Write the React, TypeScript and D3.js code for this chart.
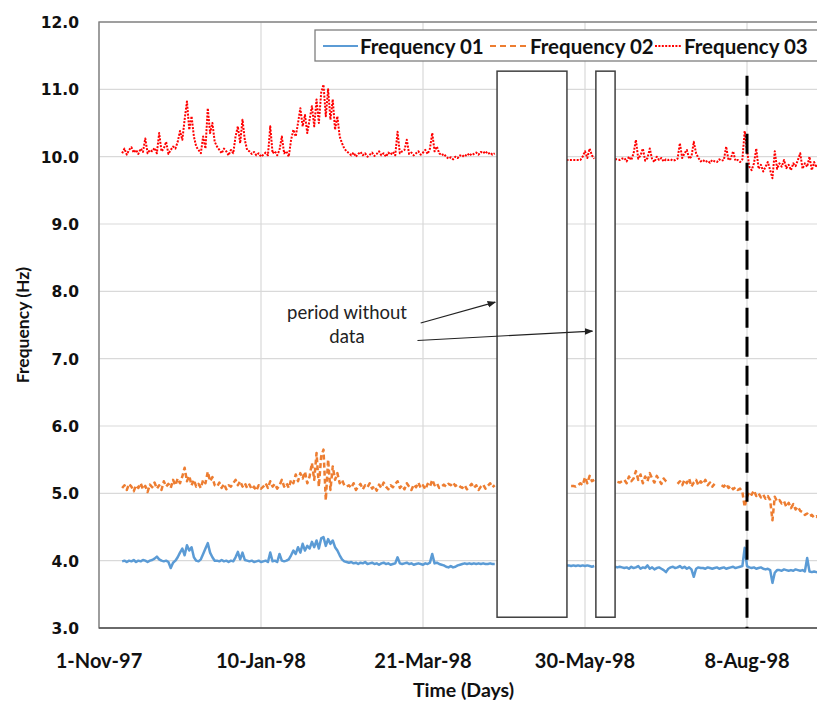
import React from "react";
import * as d3 from "d3";

// ---------- data (day offsets from 1-Nov-1997, one value per day) ----------
const originDate = new Date(1997, 10, 1);
const axisEndDay = 315;
const tickLabels = ["1-Nov-97", "10-Jan-98", "21-Mar-98", "30-May-98", "8-Aug-98"];
const tickDays = [0, 70, 140, 210, 280];
const yTicks = [3, 4, 5, 6, 7, 8, 9, 10, 11, 12];
const segmentStarts = [10, 202, 223];

const freq01Seg1 = [
  3.99, 4.0, 3.98, 4.0, 3.99, 4.01, 3.98, 4.0, 3.99, 4.01,
  4.0, 3.98, 4.0, 4.01, 4.03, 4.06, 4.02, 4.0, 3.99, 4.0,
  3.98, 3.89, 3.97, 4.0, 4.05, 4.12, 4.18, 4.08, 4.23, 4.15,
  4.2, 4.05, 4.0, 3.99, 4.02, 4.1, 4.18, 4.26, 4.12, 4.05,
  4.0, 4.0, 3.99, 4.01, 3.99, 4.0, 3.98, 4.0, 3.99, 4.05,
  4.13, 4.02, 4.12, 4.01, 4.0, 3.99, 4.0, 3.98, 3.99, 4.0,
  3.98, 3.99, 4.0, 3.98, 4.12, 3.99, 4.0, 3.98, 4.1, 4.0,
  3.99, 4.0, 4.02, 4.08, 4.15, 4.1, 4.2, 4.12, 4.25, 4.15,
  4.22, 4.18, 4.28, 4.2, 4.3, 4.18, 4.33, 4.35, 4.22, 4.32,
  4.25, 4.3, 4.2, 4.15, 4.08, 4.02, 3.99, 3.98, 3.97, 3.98,
  3.96, 3.97, 3.95, 3.97, 3.96, 3.98, 3.95, 3.96, 3.97, 3.95,
  3.96, 3.94, 3.96, 3.97, 3.95, 3.96, 3.94, 3.95, 3.96, 4.05,
  3.96, 3.95, 3.96, 3.97, 3.95, 3.96, 3.94, 3.95, 3.96, 3.95,
  3.94, 3.96, 3.95, 3.97, 4.1, 3.96, 3.97, 3.95, 3.94, 3.93,
  3.91, 3.9, 3.92, 3.9, 3.91, 3.93, 3.94, 3.95, 3.96, 3.95,
  3.96, 3.95, 3.96, 3.95, 3.96, 3.95, 3.96, 3.95, 3.95, 3.96,
  3.95, 3.95,
];
const freq01Seg2 = [3.93, 3.93, 3.92, 3.93, 3.92, 3.93, 3.92, 3.93, 3.92, 3.93, 3.92, 3.91, 3.92];
const freq01Seg3 = [
  3.91, 3.9, 3.91, 3.9, 3.89, 3.9, 3.88, 3.91, 3.89, 3.9,
  3.92, 3.88, 3.9, 3.89, 3.93, 3.88, 3.9, 3.87, 3.89, 3.9,
  3.88, 3.86, 3.83, 3.88, 3.9, 3.91, 3.89, 3.9, 3.92, 3.89,
  3.91, 3.88, 3.9, 3.87, 3.76, 3.88, 3.9, 3.89, 3.89, 3.88,
  3.9, 3.89, 3.88, 3.89, 3.9, 3.88, 3.89, 3.9, 3.88, 3.89,
  3.9, 3.91, 3.89, 3.9, 3.91, 3.92, 4.19, 3.92, 3.9, 3.89,
  3.9, 3.88, 3.89, 3.9, 3.88, 3.87, 3.88, 3.86, 3.67, 3.82,
  3.86, 3.86, 3.85, 3.87, 3.86, 3.85, 3.86, 3.85, 3.87, 3.86,
  3.85, 3.86, 3.84, 4.04, 3.84, 3.83, 3.84, 3.83, 3.82, 3.83,
];

const freq02Seg1 = [
  5.08, 5.12, 5.05, 5.14, 5.1, 5.03, 5.12, 5.08, 5.15, 5.06,
  5.11, 5.02, 5.13, 5.09, 5.16, 5.07, 5.12, 5.05, 5.18, 5.1,
  5.14, 5.08, 5.2, 5.12, 5.22, 5.15, 5.25, 5.38, 5.18, 5.26,
  5.12, 5.2, 5.1, 5.14, 5.08, 5.2, 5.15, 5.32, 5.18, 5.24,
  5.12, 5.1, 5.16, 5.08, 5.14, 5.06, 5.12, 5.1, 5.15, 5.2,
  5.12, 5.18, 5.1, 5.15, 5.08, 5.13, 5.06, 5.1, 5.04, 5.12,
  5.07, 5.1, 5.15, 5.08, 5.18, 5.1, 5.14, 5.07, 5.12, 5.2,
  5.1, 5.15, 5.08, 5.2, 5.15, 5.28, 5.18, 5.3, 5.22, 5.32,
  5.15, 5.25, 5.45, 5.2, 5.6, 5.1, 5.55, 5.65, 4.9, 5.5,
  5.05, 5.4, 5.2, 5.3, 5.15, 5.2, 5.12, 5.1, 5.12, 5.08,
  5.15, 5.05, 5.1, 5.14, 5.06, 5.12, 5.09, 5.15, 5.07, 5.11,
  5.04, 5.13, 5.08, 5.16, 5.1, 5.06, 5.12, 5.09, 5.14, 5.18,
  5.08, 5.12, 5.06, 5.15, 5.1, 5.05, 5.13, 5.09, 5.16, 5.08,
  5.12, 5.06, 5.14, 5.1, 5.2, 5.12, 5.15, 5.08, 5.1, 5.13,
  5.1, 5.14, 5.12, 5.16, 5.11, 5.13, 5.1, 5.08, 5.12, 5.06,
  5.1, 5.14, 5.08, 5.12, 5.05, 5.1, 5.13, 5.07, 5.11, 5.15,
  5.09, 5.12,
];
const freq02Seg2 = [null, null, 5.11, 5.11, 5.1, 5.12, 5.15, 5.12, 5.24, 5.15, 5.26, 5.18, 5.2];
const freq02Seg3 = [
  null, 5.17, 5.16, 5.18, 5.2, 5.15, 5.25, 5.18, 5.22, 5.33,
  5.2, 5.28, 5.15, 5.25, 5.18, 5.3, 5.22, 5.16, 5.26, 5.2,
  5.14, 5.22, 5.18, 5.15, null, null, null, 5.14, 5.18, 5.12,
  5.2, 5.15, 5.22, 5.1, 5.16, 5.2, 5.12, 5.18, 5.14, 5.2,
  5.12, 5.16, 5.1, 5.14, null, null, 5.12, 5.1, 5.14, 5.08,
  5.11, 5.06, 5.09, 5.05, 5.07, 5.02, 4.8, 4.95, 5.02, 4.98,
  5.04, 4.96, 5.0, 4.94, 4.98, 4.92, 4.96, 4.9, 4.6, 4.95,
  4.88, 4.9, 4.85, 4.88, 4.8, 4.86, 4.78, 4.84, 4.76, 4.8,
  4.74, 4.72, 4.68, 4.7, 4.66, 4.68, 4.64, 4.66, 4.63, 4.65,
];

const freq03Seg1 = [
  10.05, 10.12, 10.03, 10.1, 10.14, 10.06, 10.1, 10.04, 10.12, 10.07,
  10.27, 10.05, 10.1, 10.08, 10.13, 10.05, 10.35, 10.08, 10.12, 10.22,
  10.04, 10.1, 10.15, 10.12, 10.22, 10.38, 10.25, 10.55, 10.82, 10.4,
  10.6, 10.3, 10.15, 10.1, 10.05, 10.3, 10.12, 10.72, 10.35, 10.5,
  10.22, 10.15, 10.1, 10.05, 10.12, 10.08, 10.02, 10.1, 10.05, 10.3,
  10.45, 10.2, 10.55, 10.25, 10.1, 10.08, 10.04, 10.07, 10.02, 10.05,
  10.0, 10.03, 10.06, 10.02, 10.45, 10.05, 10.08, 10.02, 10.1, 10.3,
  10.05, 10.08, 10.0, 10.25, 10.4, 10.3, 10.5, 10.72, 10.45, 10.62,
  10.35, 10.55, 10.75, 10.45, 10.85, 10.5, 10.95, 11.07, 10.6, 11.0,
  10.55, 10.85, 10.4, 10.6, 10.3, 10.2, 10.12, 10.08, 10.05, 10.02,
  10.06, 10.0, 10.04, 10.07, 10.02, 10.05, 10.0, 10.03, 10.06, 10.01,
  10.04, 10.08, 10.02, 10.05, 10.0, 10.06, 10.03, 10.07, 10.02, 10.37,
  10.05, 10.08, 10.1, 10.25, 10.04, 10.06, 10.02, 10.05, 10.08, 10.03,
  10.06, 10.1, 10.04, 10.12, 10.35, 10.08, 10.15, 10.05, 10.02, 10.04,
  10.0, 9.97, 9.99, 9.96, 10.0, 9.98, 10.02, 10.0, 10.03, 10.01,
  10.05, 10.02, 10.04, 10.06, 10.03, 10.07, 10.05, 10.08, 10.04, 10.06,
  10.03, 10.05,
];
const freq03Seg2 = [9.95, 9.95, 9.95, 9.95, 9.95, 9.95, 9.95, 10.0, 10.08, 9.98, 10.12, 10.02, 9.97];
const freq03Seg3 = [
  9.96, 9.96, 9.95, 9.97, 9.98, 9.93, 10.0, 9.95, 10.05, 10.25,
  9.97, 10.02, 10.12, 9.94, 9.98, 10.12, 9.96, 9.92, 10.0, 9.95,
  9.98, 9.93, 9.96, 9.95, 9.96, 9.94, 9.95, 9.97, 10.2, 9.98,
  10.05, 10.1, 9.97, 10.0, 10.22, 10.05, 9.98, 9.93, 9.95, 9.92,
  9.94, 9.91, 9.95, 9.93, 9.92, 9.96, 9.94, 9.95, 10.15, 9.95,
  9.97, 10.08, 9.94, 9.95, 9.92, 9.96, 10.38, 10.1, 9.85, 9.8,
  9.9, 10.12, 9.82, 9.88, 9.78, 9.85, 9.92, 9.8, 9.68, 10.08,
  9.82, 9.9, 9.85, 9.95, 9.83, 9.88, 9.8, 9.9, 9.86, 9.95,
  10.05, 9.82, 9.9, 9.85, 10.0, 9.8, 9.92, 9.84, 9.9, 9.82,
];

// periods without data: [start day, end day]
const gapStartDays = [172, 214.7];
const gapEndDays = [202.2, 223];
const gapBoxTop = 11.27;
const gapBoxBottom = 3.16;
const eventDay = 280; // 8-Aug-98
const eventTop = 11.2;

const seriesNames = ["Frequency 01", "Frequency 02", "Frequency 03"];
const seriesColors = ["#5B9BD5", "#ED7D31", "#FF0000"];

// ---------- layout ----------
const W = 817;
const H = 701;
const plotLeft = 99;
const plotRight = 828;
const plotTop = 22;
const plotBottom = 628;

const dayToDate = (d: number) => new Date(originDate.getTime() + d * 86400000);

export default function App() {
  const x = d3.scaleTime().domain([originDate, dayToDate(axisEndDay)]).range([plotLeft, plotRight]);
  const y = d3.scaleLinear().domain([3, 12]).range([plotBottom, plotTop]);

  const toPoints = (segs: (number | null)[][]) =>
    segs.map((vals, si) => vals.map((v, i) => ({ d: segmentStarts[si] + i, v })));

  const line = d3
    .line<{ d: number; v: number | null }>()
    .defined((p) => p.v !== null)
    .x((p) => x(dayToDate(p.d)))
    .y((p) => y(p.v as number));

  const series = [
    { segs: toPoints([freq01Seg1, freq01Seg2, freq01Seg3]), color: seriesColors[0], width: 2.5, dash: undefined },
    { segs: toPoints([freq02Seg1, freq02Seg2, freq02Seg3]), color: seriesColors[1], width: 2.5, dash: "5,3" },
    { segs: toPoints([freq03Seg1, freq03Seg2, freq03Seg3]), color: seriesColors[2], width: 2.0, dash: "2,1.4" },
  ];

  const calibri = "Lato, 'Open Sans', sans-serif";
  const verdana = "'DejaVu Sans', Verdana, sans-serif";

  const legendItems = [
    { x1: 323, x2: 358, tx: 360 },
    { x1: 490, x2: 528, tx: 530 },
    { x1: 655, x2: 682, tx: 684 },
  ];

  const arrowStarts = [
    { d: 139, v: 7.53 },
    { d: 137.6, v: 7.27 },
  ];
  const arrowEnds = [
    { d: 171.2, v: 7.84 },
    { d: 213.2, v: 7.41 },
  ];

  return (
    <svg
      width={W}
      height={H}
      style={{ position: "absolute", left: 0, top: 0, display: "block", background: "#fff" }}
    >
      <defs>
        <clipPath id="plotclip">
          <rect x={plotLeft} y={plotTop} width={plotRight - plotLeft} height={plotBottom - plotTop} />
        </clipPath>
        <marker id="arrow" viewBox="0 0 10 10" refX="9" refY="5" markerWidth="7" markerHeight="7" orient="auto">
          <path d="M0,1 L10,5 L0,9 z" fill="#222" />
        </marker>
      </defs>
      <rect x={0} y={0} width={W} height={H} fill="#fff" />

      {/* gridlines */}
      {yTicks.map((t) => (
        <line key={"gy" + t} x1={plotLeft} x2={plotRight} y1={y(t)} y2={y(t)} stroke="#d9d9d9" strokeWidth={1.2} />
      ))}
      {tickDays.map((d) => (
        <line key={"gx" + d} x1={x(dayToDate(d))} x2={x(dayToDate(d))} y1={plotTop} y2={plotBottom} stroke="#d9d9d9" strokeWidth={1.2} />
      ))}

      {/* plot border */}
      <rect x={plotLeft} y={plotTop} width={plotRight - plotLeft} height={plotBottom - plotTop} fill="none" stroke="#7f7f7f" strokeWidth={1.4} />
      <line x1={plotLeft} x2={plotRight} y1={plotBottom} y2={plotBottom} stroke="#595959" strokeWidth={1.6} />

      {/* series */}
      <g clipPath="url(#plotclip)">
        {series.map((s, i) =>
          s.segs.map((seg, j) => (
            <path
              key={`s${i}-${j}`}
              d={line(seg) || ""}
              fill="none"
              stroke={s.color}
              strokeWidth={s.width}
              strokeDasharray={s.dash}
              strokeLinejoin="round"
            />
          ))
        )}
      </g>

      {/* periods without data */}
      {gapStartDays.map((d0, i) => (
        <rect
          key={"gap" + i}
          x={x(dayToDate(d0))}
          y={y(gapBoxTop)}
          width={x(dayToDate(gapEndDays[i])) - x(dayToDate(d0))}
          height={y(gapBoxBottom) - y(gapBoxTop)}
          fill="#fff"
          stroke="#404040"
          strokeWidth={1.5}
        />
      ))}

      {/* event line */}
      <line
        x1={x(dayToDate(eventDay))}
        x2={x(dayToDate(eventDay))}
        y1={y(eventTop)}
        y2={plotBottom}
        stroke="#000"
        strokeWidth={3}
        strokeDasharray="20,9"
      />

      {/* annotation */}
      <text x={347} y={312} textAnchor="middle" dominantBaseline="central" fontFamily={calibri} fontSize={18.5} fill="#222">
        period without
      </text>
      <text x={347} y={336} textAnchor="middle" dominantBaseline="central" fontFamily={calibri} fontSize={18.5} fill="#222">
        data
      </text>
      {arrowStarts.map((a, i) => (
        <line
          key={"arr" + i}
          x1={x(dayToDate(a.d))}
          y1={y(a.v)}
          x2={x(dayToDate(arrowEnds[i].d))}
          y2={y(arrowEnds[i].v)}
          stroke="#222"
          strokeWidth={1.2}
          markerEnd="url(#arrow)"
        />
      ))}

      {/* legend */}
      <rect x={315} y={30} width={540} height={31} fill="#fff" stroke="#7f7f7f" strokeWidth={1.3} />
      {legendItems.map((it, i) => (
        <g key={"leg" + i}>
          <line
            x1={it.x1}
            x2={it.x2}
            y1={46}
            y2={46}
            stroke={seriesColors[i]}
            strokeWidth={i === 2 ? 1.8 : 2.2}
            strokeDasharray={i === 1 ? "6,4" : i === 2 ? "2,1.4" : undefined}
          />
          <text x={it.tx} y={46} dominantBaseline="central" fontFamily={calibri} fontWeight="bold" fontSize={20.5} fill="#111">
            {seriesNames[i]}
          </text>
        </g>
      ))}

      {/* y axis labels */}
      {yTicks.map((t) => (
        <text key={"yt" + t} x={79} y={y(t) + 1} textAnchor="end" dominantBaseline="central" fontFamily={verdana} fontWeight="bold" fontSize={15.5} fill="#111">
          {t.toFixed(1)}
        </text>
      ))}
      <text
        transform={`translate(22,${(plotTop + plotBottom) / 2}) rotate(-90)`}
        textAnchor="middle"
        dominantBaseline="central"
        fontFamily={calibri}
        fontWeight="bold"
        fontSize={17.5}
        fill="#111"
      >
        Frequency (Hz)
      </text>

      {/* x axis labels */}
      {tickDays.map((d, i) => (
        <text key={"xt" + d} x={x(dayToDate(d))} y={660} textAnchor="middle" dominantBaseline="central" fontFamily={calibri} fontWeight="bold" fontSize={20} fill="#111">
          {tickLabels[i]}
        </text>
      ))}
      <text x={(plotLeft + plotRight) / 2} y={689} textAnchor="middle" dominantBaseline="central" fontFamily={calibri} fontWeight="bold" fontSize={19.5} fill="#111">
        Time (Days)
      </text>
    </svg>
  );
}
